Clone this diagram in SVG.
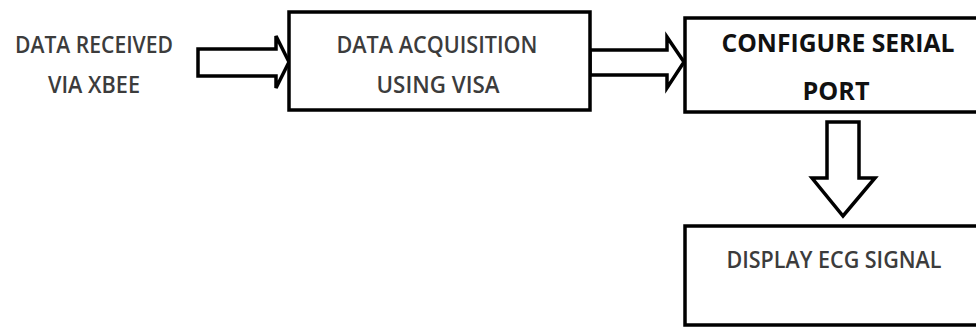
<svg xmlns="http://www.w3.org/2000/svg" width="976" height="329" viewBox="0 0 976 329">
<style>
.box{fill:#fff;stroke:#000;stroke-width:3.5}
.arr{fill:#fff;stroke:#000;stroke-width:3.5;stroke-linejoin:miter}
.t{font-family:"Open Sans","Liberation Sans",sans-serif;font-size:23px;font-weight:600;fill:#3c3c3c;text-anchor:middle}
.b{font-family:"Open Sans","Liberation Sans",sans-serif;font-size:25px;font-weight:bold;fill:#111;text-anchor:middle}
</style>
<rect width="976" height="329" fill="#fff"/>
<g id="connectors">
<path class="arr" d="M198,49 H276 V36 L289,62 L276,88 V76 H198 Z"/>
<path class="arr" d="M590,50 H667 V37 L684,62 L667,88 V75 H590 Z"/>
<path class="arr" d="M827,122 H859 V178 H875 L843,216 L812,178 H827 Z"/>
</g>
<g id="source">
<text class="t" x="94" y="53" textLength="158" lengthAdjust="spacingAndGlyphs">DATA RECEIVED</text>
<text class="t" x="94" y="93" textLength="92" lengthAdjust="spacingAndGlyphs">VIA XBEE</text>
</g>
<g id="acquisition">
<rect class="box" x="289" y="12" width="301" height="98"/>
<text class="t" x="437" y="53" textLength="201" lengthAdjust="spacingAndGlyphs">DATA ACQUISITION</text>
<text class="t" x="438" y="93" textLength="123" lengthAdjust="spacingAndGlyphs">USING VISA</text>
</g>
<g id="configure">
<rect class="box" x="685" y="18" width="320" height="94"/>
<text class="b" x="838" y="52" textLength="233" lengthAdjust="spacingAndGlyphs">CONFIGURE SERIAL</text>
<text class="b" x="836" y="100" textLength="67" lengthAdjust="spacingAndGlyphs">PORT</text>
</g>
<g id="display">
<rect class="box" x="685" y="226" width="320" height="99"/>
<text class="t" x="834" y="268" textLength="215" lengthAdjust="spacingAndGlyphs">DISPLAY ECG SIGNAL</text>
</g>
</svg>
